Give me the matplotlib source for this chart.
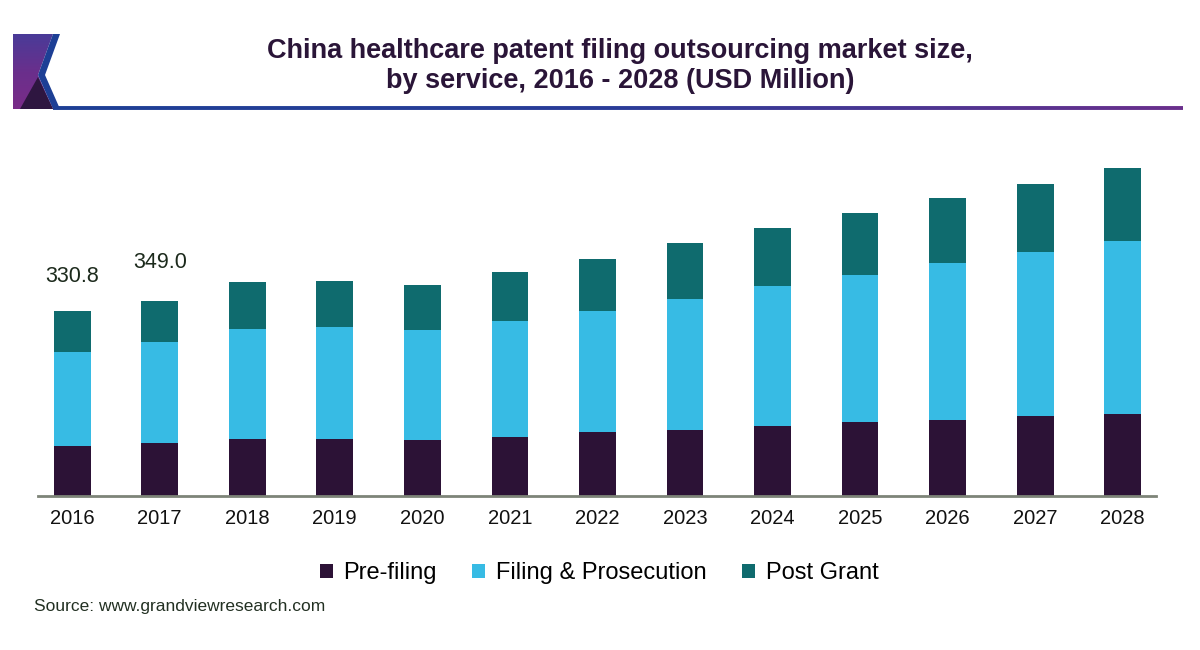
import numpy as np
import matplotlib.pyplot as plt
from matplotlib.patches import Polygon
from matplotlib.collections import LineCollection
from matplotlib.colors import LinearSegmentedColormap

plt.rcParams['font.family'] = ['Liberation Sans', 'DejaVu Sans']

years = [str(y) for y in range(2016, 2029)]
pre_filing = [90.0, 94.5, 102.0, 102.0, 100.2, 105.6, 114.0, 118.1, 125.3, 132.5, 136.0, 143.2, 146.2]
filing_prosecution = [168.0, 181.5, 196.4, 201.0, 196.4, 207.6, 217.7, 234.0, 250.6, 263.1, 280.5, 293.0, 310.7]
post_grant = [72.8, 73.0, 84.1, 82.3, 80.5, 87.2, 92.5, 100.2, 104.4, 111.0, 117.4, 123.5, 131.4]
labels = {0: "330.8", 1: "349.0"}
series_names = ["Pre-filing", "Filing & Prosecution", "Post Grant"]
colors = ["#2c1236", "#37bbe4", "#0f6b6e"]

W, H = 1200, 650
fig = plt.figure(figsize=(12, 6.5), dpi=100)
ax = fig.add_axes([38 / W, 1 - 496 / H, (1156 - 38) / W, 335 / H])

x = np.arange(len(years))
w = 0.42
pre = np.array(pre_filing)
fil = np.array(filing_prosecution)
post = np.array(post_grant)
ax.bar(x, pre, w, color=colors[0], label=series_names[0])
ax.bar(x, fil, w, bottom=pre, color=colors[1], label=series_names[1])
ax.bar(x, post, w, bottom=pre + fil, color=colors[2], label=series_names[2])

totals = pre + fil + post
offsets = {0: (0, 25), 1: (0, 28)}
for i, txt in labels.items():
    ax.annotate(txt, (x[i], totals[i]), xytext=offsets[i], textcoords="offset points",
                ha="center", va="center", fontsize=15.5, color="#1c2a1c")

ax.set_xlim(-0.39, 12.38)
ax.set_ylim(0, 600)
ax.set_xticks(x)
ax.set_xticklabels(years, fontsize=14.5, color="#111111")
ax.tick_params(axis="x", length=0, pad=9)
ax.set_yticks([])
for s in ["top", "right", "left"]:
    ax.spines[s].set_visible(False)
ax.spines["bottom"].set_color("#7d8478")
ax.spines["bottom"].set_linewidth(2)

# title
fig.text(620 / W, 1 - 66 / H, "China healthcare patent filing outsourcing market size,\nby service, 2016 - 2028 (USD Million)",
         ha="center", va="center", fontsize=19.5, fontweight="bold", color="#2a1538", linespacing=1.2)

# header line, blue fading to purple
xs = np.linspace(53, 1183, 200)
segs = [[(xs[k] / W, 1 - 107.5 / H), (xs[k + 1] / W, 1 - 107.5 / H)] for k in range(len(xs) - 1)]
line_cmap = LinearSegmentedColormap.from_list("hdr", ["#1d3f95", "#2a3c98", "#6a2f8c"])
lc = LineCollection(segs, colors=line_cmap(np.linspace(0, 1, len(segs))), linewidths=2.8,
                    transform=fig.transFigure)
fig.add_artist(lc)

# logo
lax = fig.add_axes([0, 1 - 120 / H, 70 / W, 100 / H])
lax.set_xlim(0, 70)
lax.set_ylim(120, 20)
lax.axis("off")
grad = np.linspace(0, 1, 100).reshape(-1, 1)
purple = LinearSegmentedColormap.from_list("logo", ["#4a3b98", "#6a2f8c", "#7a2c88"])
img = lax.imshow(grad, cmap=purple, extent=(13, 53, 110, 34), aspect="auto")
shape = Polygon([(13, 34), (53, 34), (38, 75), (53, 109), (13, 109)], closed=True, transform=lax.transData)
img.set_clip_path(shape)
lax.add_patch(Polygon([(53, 34), (60, 34), (45, 75), (60, 109), (53, 109), (38, 75)], closed=True,
                      facecolor="#1d3f95", edgecolor="none"))
lax.add_patch(Polygon([(20, 109), (38, 77), (53, 109)], closed=True,
                      facecolor="#2e1640", edgecolor="none"))

# legend
fig.legend(loc="center", bbox_to_anchor=(599 / W, 1 - 573 / H), ncol=3, frameon=False,
           fontsize=17, handlelength=0.55, handleheight=0.55, handletextpad=0.45, columnspacing=1.5)

fig.text(34 / W, 1 - 607 / H, "Source: www.grandviewresearch.com", ha="left", va="center",
         fontsize=12.5, color="#223022")

fig.savefig("out.png", dpi=100)
